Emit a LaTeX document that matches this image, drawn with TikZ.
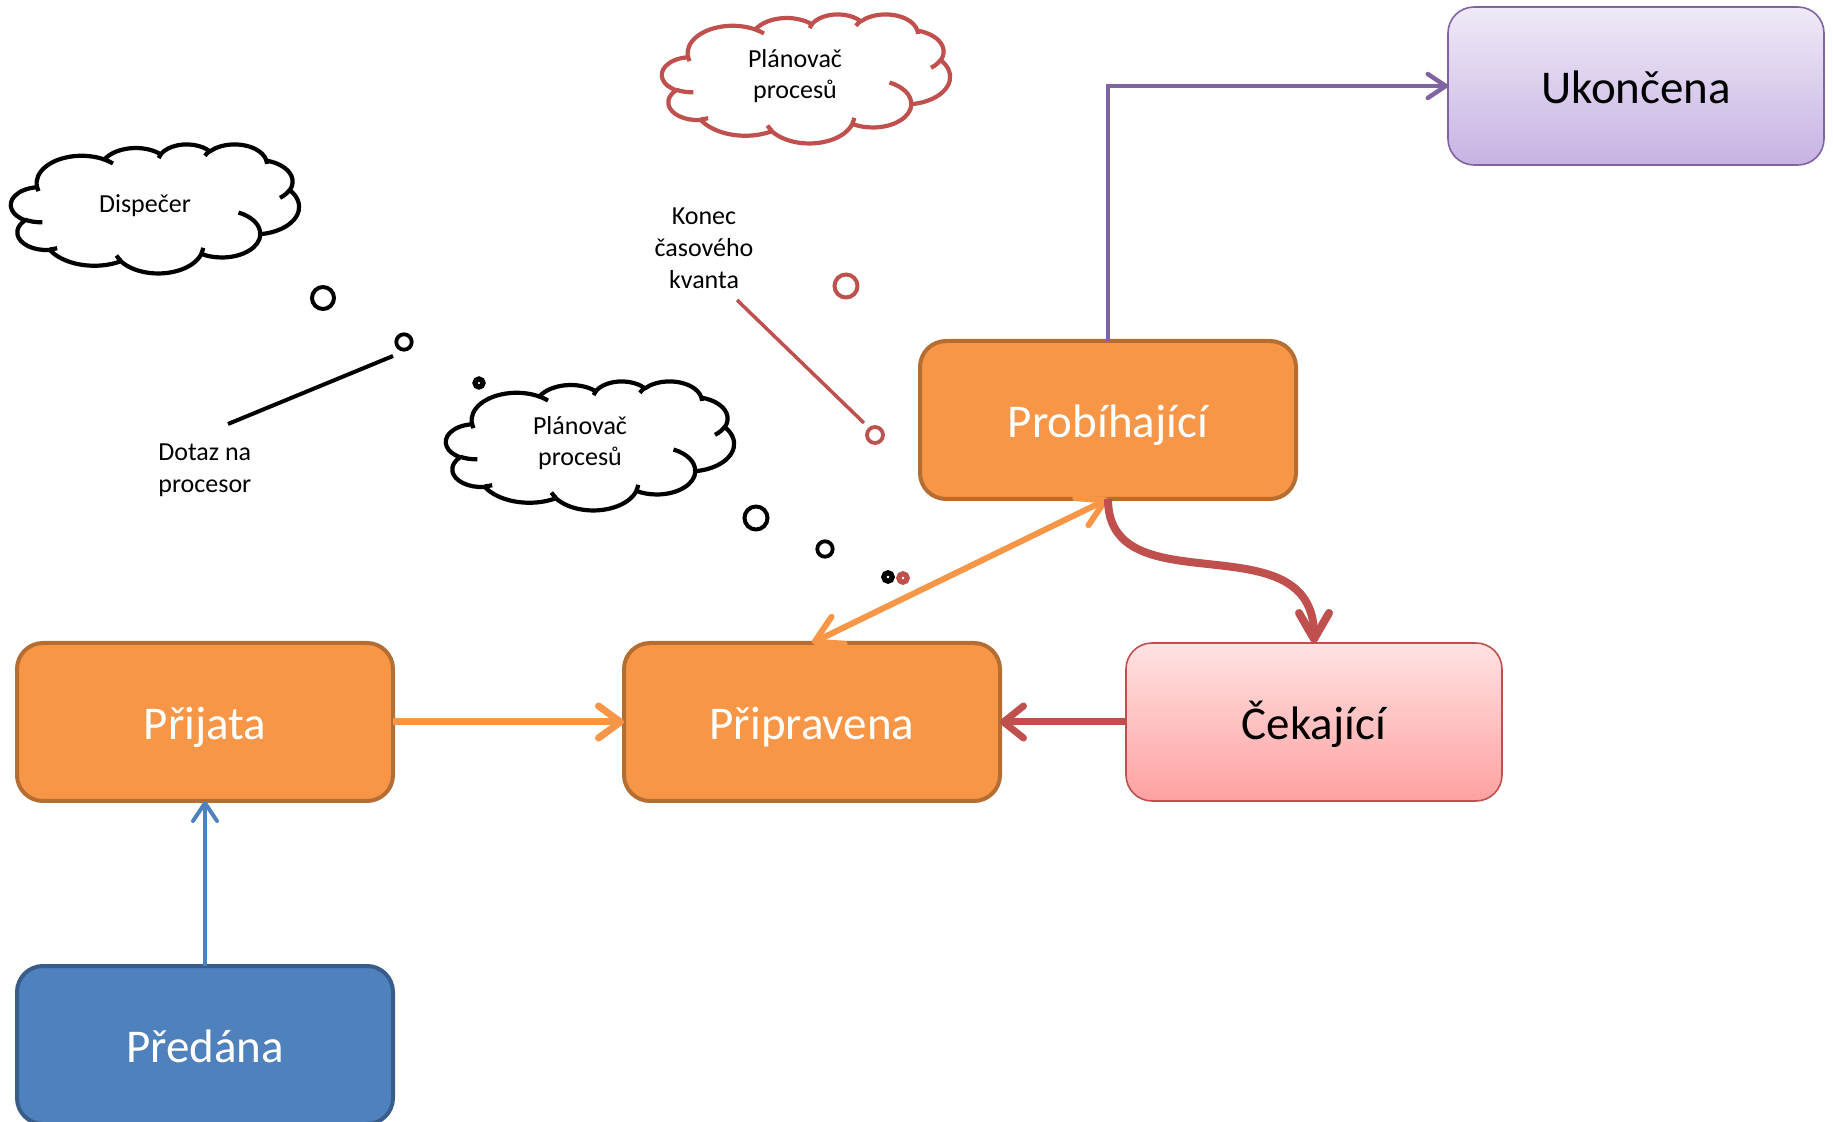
\documentclass[tikz,border=0pt]{standalone}
\usepackage{fontspec}
\setmainfont{Carlito}
\usetikzlibrary{arrows.meta}
\definecolor{orF}{HTML}{F79646}
\definecolor{orD}{HTML}{B66D31}
\definecolor{redC}{HTML}{C0504D}
\definecolor{purC}{HTML}{8064A2}
\definecolor{bluF}{HTML}{4F81BD}
\definecolor{bluD}{HTML}{385D8A}
\definecolor{cekT}{HTML}{FFE2E2}
\definecolor{cekB}{HTML}{FFA1A1}
\definecolor{ukoT}{HTML}{EFE9F7}
\definecolor{ukoB}{HTML}{C7B3E3}

% PowerPoint-like cloud outline (43.2 x 43.2 box)
\def\cloudpath{}
\foreach \rx/\ry/\st/\sw in {%
  6.753/9.190/-190.4875/123.7805,
  5.333/7.267/-144.1024/89.9452,
  4.365/5.945/-145.8079/99.7230,
  4.857/6.595/-130.9861/117.2417,
  5.333/7.273/-78.7089/109.0269,
  6.775/9.220/-46.2673/130.2690,
  5.785/7.867/0.6250/114.0333,
  6.752/9.215/22.4516/115.1726,
  7.720/10.543/66.2426/75.7110,
  4.360/5.918/-274.9421/146.7356,
  4.345/5.945/-246.8285/152.5189}{%
  \pgfmathsetmacro\cta{atan2(\rx*sin(\st),\ry*cos(\st))}%
  \pgfmathsetmacro\ctb{atan2(\rx*sin(\st+\sw),\ry*cos(\st+\sw))}%
  \pgfmathsetmacro\cdd{mod(\ctb-\cta+720,360)}%
  \xdef\cloudpath{\cloudpath arc[start angle=\cta, delta angle=\cdd, x radius=\rx, y radius=\ry]}%
}
\def\cloudinner{}
\foreach \mx/\my/\rx/\ry/\st/\sw in {%
  4.693/26.177/4.345/5.945/86.742/26.4295,
  6.928/34.899/4.360/5.918/73.6105/11.4475,
  16.478/39.090/6.752/9.215/137.6242/14.0811,
  28.827/34.751/6.752/9.215/6.4533/15.9984,
  34.129/22.954/5.785/7.867/-70.2924/70.9174,
  41.798/15.354/5.333/7.273/30.3180/27.7515,
  38.324/5.426/4.857/6.595/-13.7443/14.8589,
  29.078/3.952/4.857/6.595/-149.1815/18.1954,
  22.141/4.720/4.365/5.945/-163.4943/17.6864,
  14.000/5.192/6.753/9.190/-66.7070/12.3194,
  4.127/15.789/6.753/9.190/157.6544/11.8582}{%
  \pgfmathsetmacro\cta{atan2(\rx*sin(\st),\ry*cos(\st))}%
  \pgfmathsetmacro\ctb{atan2(\rx*sin(\st+\sw),\ry*cos(\st+\sw))}%
  \pgfmathsetmacro\cdd{mod(\ctb-\cta+720,360)}%
  \xdef\cloudinner{\cloudinner (\mx,\my) arc[start angle=\cta, delta angle=\cdd, x radius=\rx, y radius=\ry]}%
}
\newcommand\pptcloud[3]{%
  \begin{scope}[shift={(#1,#2)}, x=3.3333pt, y=-1.4931pt]
    \draw[line width=2.1pt, line join=round, draw=#3, fill=white] (3.900,14.370) \cloudpath -- cycle;
    \draw[line width=2.1pt, draw=#3] \cloudinner;
  \end{scope}}

\tikzset{
  stbox/.style={rectangle, rounded corners=13pt, minimum width=188pt, minimum height=79pt,
    inner sep=0pt, outer sep=0pt, text height=17.5pt, text depth=0pt,
    font=\fontsize{23.5}{28}\selectfont},
  orbox/.style={stbox, fill=orF, draw=orD, line width=2pt, text=white},
  blbox/.style={stbox, fill=bluF, draw=bluD, line width=2pt, text=white},
  cekbox/.style={stbox, top color=cekT, bottom color=cekB, draw=redC, line width=0.8pt, text=black},
  ukobox/.style={stbox, top color=ukoT, bottom color=ukoB, draw=purC, line width=0.8pt, text=black},
  small/.style={inner sep=0pt, align=center, font=\fontsize{13}{15.9}\selectfont},
  arrBlue/.style={draw=bluF, line width=2pt, -{Straight Barb[length=9pt,width=12pt,round]}},
  arrOr/.style={draw=orF, line width=3.5pt, -{Straight Barb[length=11pt,width=16pt,round]}},
  arrOrDbl/.style={draw=orF, line width=3pt, {Straight Barb[length=13pt,width=15pt,round]}-{Straight Barb[length=13pt,width=15pt,round]}},
  arrRed/.style={draw=redC, line width=3.5pt, -{Straight Barb[length=10pt,width=16pt,round]}},
  arrRedCurve/.style={draw=redC, line width=4pt, -{Straight Barb[length=13pt,width=15pt,round]}},
  arrPur/.style={draw=purC, line width=2.25pt, -{Straight Barb[length=9pt,width=12pt,round]}},
  bubK/.style={draw=black},
  bubR/.style={draw=redC},
}

\begin{document}
\begin{tikzpicture}[x=0.5pt, y=-0.5pt]
\useasboundingbox (0,0) rectangle (1833,1122);

% clouds
\pptcloud{11}{144}{black}
\pptcloud{662}{14}{redC}
\pptcloud{446}{381}{black}
\node[small] (tDisp) at (145,206) {Dispečer};
\node[small] (tPlanA) at (795,76) {Plánovač\\procesů};
\node[small] (tPlanB) at (580,443) {Plánovač\\procesů};

% labels
\node[small] (tKonec) at (704,248) {Konec\\časového\\kvanta};
\node[small, align=left, anchor=west] (tDotaz) at (158,470) {Dotaz na\\procesor};

% pointer lines
\coordinate (dA) at (228,424);
\coordinate (dB) at (393,356);
\draw[line width=2pt] (dA) -- (dB);
\coordinate (kA) at (737,300);
\coordinate (kB) at (864,423);
\draw[redC, line width=1.75pt] (kA) -- (kB);

% thought bubbles
\draw[bubK, line width=2pt] (323,298) circle[radius=11];
\draw[bubK, line width=1.9pt] (404,342) circle[radius=7.7];
\draw[bubK, line width=2.6pt] (479,383) circle[radius=4];
\draw[bubK, line width=2pt] (756,518) circle[radius=11.5];
\draw[bubK, line width=1.9pt] (825,549) circle[radius=7.7];
\draw[bubK, line width=2.6pt] (888,577) circle[radius=4.2];
\draw[bubR, line width=2pt] (846,286) circle[radius=11.5];
\draw[bubR, line width=1.9pt] (875,435) circle[radius=8];
\draw[bubR, line width=2.6pt] (903,578) circle[radius=4.2];

% states
\node[orbox] (prij) at (205,722) {Přijata};
\node[orbox] (prip) at (812,722) {Připravena};
\node[cekbox] (cek) at (1314,722) {Čekající};
\node[orbox] (prob) at (1108,420) {Probíhající};
\node[ukobox] (uko) at (1636,86) {Ukončena};
\node[blbox] (pred) at (205,1045) {Předána};

% transitions
\draw[arrBlue] (pred.north) -- (prij.south);
\draw[arrOr] (prij.east) -- (prip.west);
\draw[arrRed] (cek.west) -- (prip.east);
\draw[arrOrDbl] (prip.north) -- (prob.south);
\draw[arrRedCurve] (prob.south) .. controls +(0,110) and +(0,-125) .. (cek.north);
\draw[arrPur] (prob.north) |- (uko.west);
\end{tikzpicture}
\end{document}
